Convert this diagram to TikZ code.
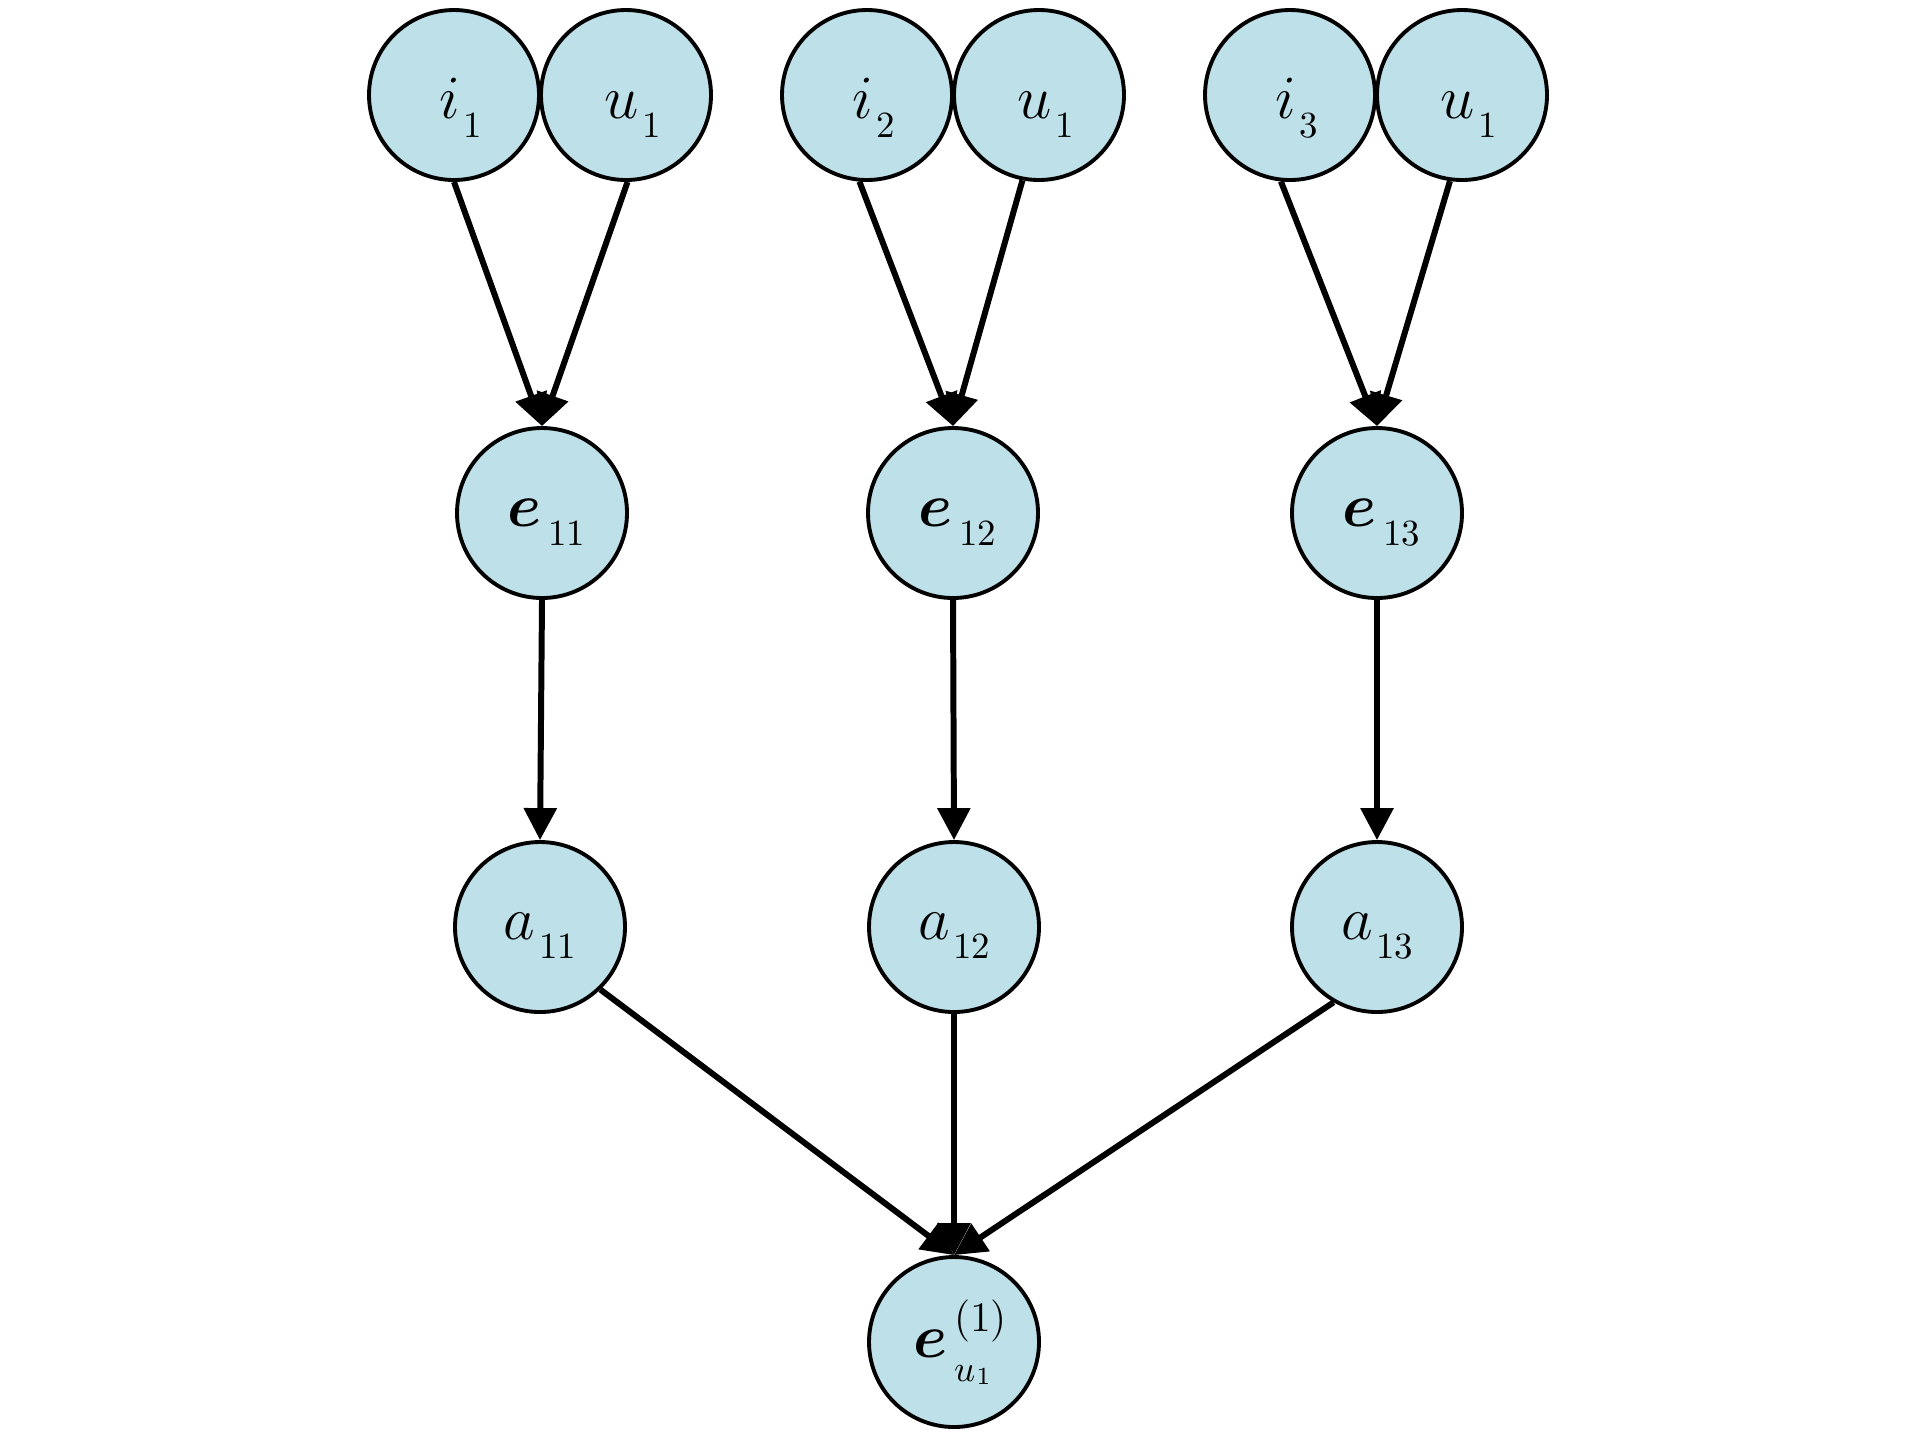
\RequirePackage{fix-cm}
\documentclass[tikz,border=0pt]{standalone}
\usepackage{bm}
\usetikzlibrary{arrows.meta}
\definecolor{nodefill}{RGB}{190,224,232}
% label placed with its baseline #2 below the node centre and its middle #1 right of it
\newcommand{\lbl}[3]{\raisebox{-#2}[0pt][0pt]{\makebox[0pt]{\hspace*{#1}\hspace*{#1}#3}}}
\newcommand{\sbx}[1]{\kern1pt\raisebox{-5.5pt}{\fontsize{10.5}{11}\selectfont #1}}
\begin{document}
\begin{tikzpicture}[x=0.1mm,y=-0.1mm,
  vnode/.style={circle,draw=black,line width=1.1pt,fill=nodefill,minimum size=17.0mm,inner sep=0pt,font=\fontsize{17.5}{20}\selectfont},
  edge/.style={line width=1.7pt,-{Triangle[length=3.2mm,width=3.2mm]}}]
\useasboundingbox (0,0) rectangle (1913,1441);
\node[vnode] (i1) at (454,95) {\lbl{0.65mm}{2.3mm}{$i$\sbx{1}}};
\node[vnode] (ua) at (626,95) {\lbl{0.65mm}{2.3mm}{$u$\sbx{1}}};
\node[vnode] (i2) at (867,95) {\lbl{0.65mm}{2.3mm}{$i$\sbx{2}}};
\node[vnode] (ub) at (1039,95) {\lbl{0.65mm}{2.3mm}{$u$\sbx{1}}};
\node[vnode] (i3) at (1290,95) {\lbl{0.65mm}{2.3mm}{$i$\sbx{3}}};
\node[vnode] (uc) at (1462,95) {\lbl{0.65mm}{2.3mm}{$u$\sbx{1}}};
\node[vnode] (e11) at (542,513) {\lbl{0.4mm}{1.35mm}{$\bm{e}$\kern1pt\sbx{11}}};
\node[vnode] (e12) at (953,513) {\lbl{0.4mm}{1.35mm}{$\bm{e}$\kern1pt\sbx{12}}};
\node[vnode] (e13) at (1377,513) {\lbl{0.4mm}{1.35mm}{$\bm{e}$\kern1pt\sbx{13}}};
\node[vnode] (a11) at (540,927) {\lbl{0mm}{1.25mm}{$a$\sbx{11}}};
\node[vnode] (a12) at (954,927) {\lbl{0mm}{1.25mm}{$a$\sbx{12}}};
\node[vnode] (a13) at (1377,927) {\lbl{0mm}{1.25mm}{$a$\sbx{13}}};
\node[vnode] (eu) at (954,1342) {\lbl{0.6mm}{1.55mm}{$\bm{e}$\kern2pt\rlap{\raisebox{-6.8pt}{\fontsize{10.5}{11}\selectfont$u$\kern0.3pt\raisebox{-1pt}{\fontsize{7}{8}\selectfont 1}}}\raisebox{7.5pt}{\fontsize{12}{13}\selectfont(1)}}};
\draw[edge] (i1.-90) -- (e11.north);
\draw[edge] (ua.-89) -- (e11.north);
\draw[edge] (i2.-95) -- (e12.north);
\draw[edge] (ub.-101) -- (e12.north);
\draw[edge] (i3.-96) -- (e13.north);
\draw[edge] (uc.-98) -- (e13.north);
\draw[edge] (e11.south) -- (a11.north);
\draw[edge] (e12.south) -- (a12.north);
\draw[edge] (e13.south) -- (a13.north);
\draw[edge] (a11.-46) -- (eu.north);
\draw[edge] (a12.south) -- (eu.north);
\draw[edge] (a13.-120) -- (eu.north);
\end{tikzpicture}
\end{document}
